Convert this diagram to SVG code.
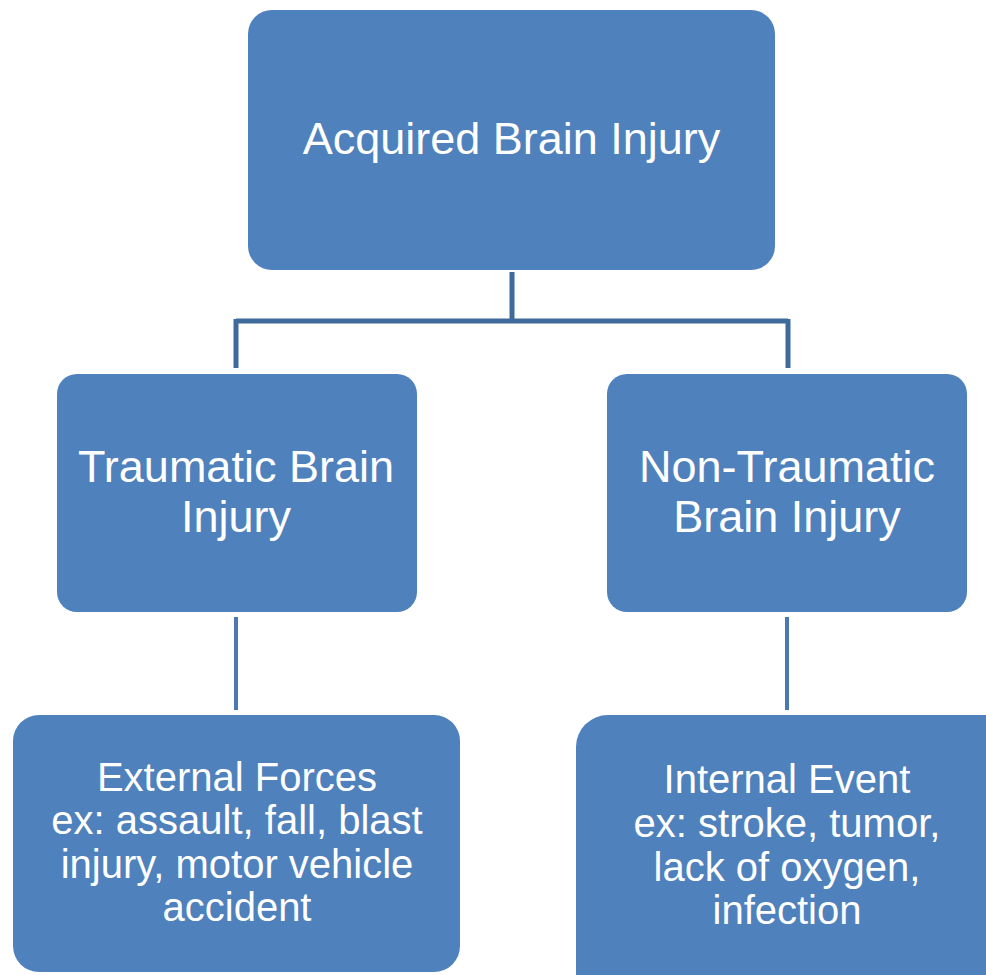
<svg xmlns="http://www.w3.org/2000/svg" width="986" height="975" viewBox="0 0 986 975">
<style>
.box{fill:#4F81BD;}
.t{fill:#FFFFFF;font-family:"Liberation Sans",Arial,sans-serif;text-anchor:middle;}
.c1{stroke:#3F6A9C;stroke-width:5;fill:none;}
.c2{stroke:#4A78B0;stroke-width:4;fill:none;}
</style>
<rect width="986" height="975" fill="#FFFFFF"/>
<g id="connectors">
<path class="c1" d="M512 272 V321 M236 321 H788 M236 319 V368 M788 319 V368"/>
<path class="c2" d="M236 617 V710 M787 617 V710"/>
</g>
<g id="acquired">
<rect class="box" x="248" y="10" width="527" height="260" rx="24"/>
<text class="t" x="511.5" y="154" font-size="45">Acquired Brain Injury</text>
</g>
<g id="traumatic">
<rect class="box" x="57" y="374" width="360" height="238" rx="20"/>
<text class="t" x="236" y="482" font-size="45">Traumatic Brain</text>
<text class="t" x="236" y="532" font-size="45">Injury</text>
</g>
<g id="nontraumatic">
<rect class="box" x="607" y="374" width="360" height="238" rx="20"/>
<text class="t" x="787" y="482" font-size="45">Non-Traumatic</text>
<text class="t" x="787" y="532" font-size="45">Brain Injury</text>
</g>
<g id="external">
<rect class="box" x="13" y="715" width="447" height="257" rx="26"/>
<text class="t" x="237" y="791" font-size="40">External Forces</text>
<text class="t" x="237" y="834" font-size="40">ex: assault, fall, blast</text>
<text class="t" x="237" y="878" font-size="40">injury, motor vehicle</text>
<text class="t" x="237" y="921" font-size="40">accident</text>
</g>
<g id="internal">
<rect class="box" x="576" y="715" width="440" height="290" rx="32"/>
<text class="t" x="787" y="793" font-size="40">Internal Event</text>
<text class="t" x="787" y="837" font-size="40">ex: stroke, tumor,</text>
<text class="t" x="787" y="881" font-size="40">lack of oxygen,</text>
<text class="t" x="787" y="924" font-size="40">infection</text>
</g>
</svg>
